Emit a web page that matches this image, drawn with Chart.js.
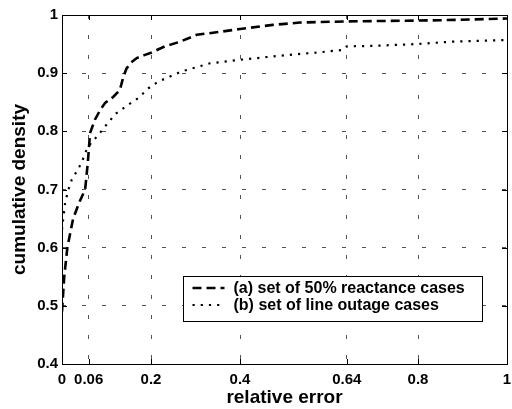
<!DOCTYPE html>
<html>
<head>
<meta charset="utf-8">
<script src="https://cdn.jsdelivr.net/npm/chart.js@4.4.1/dist/chart.umd.min.js"></script>
<style>
html, body { margin: 0; padding: 0; background: #fff; }
canvas { display: block; }
</style>
</head>
<body>
<canvas id="cdfChart" width="512" height="409"></canvas>
<script>
// 軸の目盛り
var xTicks = [0, 0.06, 0.2, 0.4, 0.64, 0.8, 1];
var yTicks = [0.4, 0.5, 0.6, 0.7, 0.8, 0.9, 1];

// (a) 50% reactance の累積分布
var reactX = [0, 0.005, 0.012, 0.025, 0.04, 0.052, 0.058, 0.063, 0.074, 0.086, 0.097, 0.115, 0.13, 0.138, 0.145, 0.155, 0.168, 0.185, 0.2, 0.231, 0.265, 0.303, 0.355, 0.4, 0.474, 0.535, 0.64, 0.76, 0.85, 0.95, 1];
var reactY = [0.49, 0.55, 0.6, 0.65, 0.68, 0.7, 0.746, 0.797, 0.82, 0.837, 0.849, 0.859, 0.871, 0.894, 0.908, 0.918, 0.926, 0.931, 0.935, 0.946, 0.954, 0.966, 0.971, 0.976, 0.983, 0.987, 0.989, 0.99, 0.991, 0.993, 0.994];

// (b) line outage の累積分布
var outageX = [0, 0.003, 0.007, 0.014, 0.022, 0.033, 0.044, 0.055, 0.067, 0.08, 0.093, 0.104, 0.12, 0.142, 0.171, 0.2, 0.224, 0.269, 0.333, 0.4, 0.49, 0.58, 0.632, 0.64, 0.7, 0.797, 0.872, 0.95, 1];
var outageY = [0.631, 0.651, 0.677, 0.699, 0.717, 0.731, 0.746, 0.768, 0.782, 0.792, 0.805, 0.815, 0.83, 0.842, 0.857, 0.878, 0.888, 0.903, 0.917, 0.923, 0.93, 0.936, 0.94, 0.946, 0.947, 0.95, 0.954, 0.956, 0.957];

var seriesLabels = ["(a) set of 50% reactance cases", "(b) set of line outage cases"];

var fontFamily = "'Liberation Sans', Arial, Helvetica, sans-serif";

function toPoints(xs, ys){
    var pts = [];
    for(var i=0;i<xs.length;++i){
        pts.push({x: xs[i], y: ys[i]});
    }
    return pts;
}

// 枠線と内向きの目盛り、凡例を描くプラグイン
var framePlugin = {
    id: 'frame',
    afterDraw: function(chart){
        var ctx = chart.ctx;
        var a = chart.chartArea;
        var xs = chart.scales.x;
        var ys = chart.scales.y;
        var tl = 5;
        ctx.save();
        ctx.strokeStyle = '#000';
        ctx.lineWidth = 1;
        ctx.setLineDash([]);
        ctx.beginPath();
        for(var i=0;i<xTicks.length;++i){
            var px = Math.round(xs.getPixelForValue(xTicks[i])) + 0.5;
            ctx.moveTo(px, a.bottom); ctx.lineTo(px, a.bottom - tl);
            ctx.moveTo(px, a.top); ctx.lineTo(px, a.top + tl);
        }
        for(var j=0;j<yTicks.length;++j){
            var py = Math.round(ys.getPixelForValue(yTicks[j])) + 0.5;
            ctx.moveTo(a.left, py); ctx.lineTo(a.left + tl, py);
            ctx.moveTo(a.right, py); ctx.lineTo(a.right - tl, py);
        }
        ctx.stroke();
        ctx.strokeRect(Math.round(a.left) + 0.5, Math.round(a.top) + 0.5, Math.round(a.right - a.left), Math.round(a.bottom - a.top));

        // 凡例
        var lx = Math.round(a.left) + 121.5;
        var ly = Math.round(a.top) + 261.5;
        var lw = 299, lh = 45;
        ctx.fillStyle = '#fff';
        ctx.fillRect(lx, ly, lw, lh);
        ctx.strokeRect(lx, ly, lw, lh);
        ctx.font = 'bold 16px ' + fontFamily;
        ctx.textBaseline = 'middle';
        ctx.textAlign = 'left';
        var rows = [11, 28];
        chart.data.datasets.forEach(function(ds, k){
            var ry = Math.round(ly + rows[k]);
            ctx.strokeStyle = ds.borderColor;
            ctx.lineWidth = ds.borderWidth;
            ctx.setLineDash(ds.borderDash);
            ctx.beginPath();
            ctx.moveTo(lx + 9, ry);
            ctx.lineTo(lx + 41, ry);
            ctx.stroke();
            ctx.setLineDash([]);
            ctx.fillStyle = '#000';
            ctx.fillText(ds.label, lx + 50, ry + 1);
        });
        ctx.restore();
    }
};

var ctx1 = document.getElementById("cdfChart");

var cdfChart = new Chart(ctx1, {
    type: 'line',
    data: {
        datasets: [{
            label: seriesLabels[0],
            data: toPoints(reactX, reactY),
            borderColor: '#000',
            borderWidth: 2.6,
            borderDash: [9, 5],
            pointRadius: 0,
            tension: 0,
            fill: false
        }, {
            label: seriesLabels[1],
            data: toPoints(outageX, outageY),
            borderColor: '#000',
            borderWidth: 2.2,
            borderDash: [2.2, 6],
            pointRadius: 0,
            tension: 0,
            fill: false
        }]
    },
    options: {
        responsive: false,
        animation: false,
        layout: {
            padding: {top: 15, right: 0, left: 0, bottom: 0}
        },
        plugins: {
            legend: { display: false },
            tooltip: { enabled: false }
        },
        scales: {
            x: {
                type: 'linear',
                min: 0,
                max: 1,
                afterBuildTicks: function(scale){
                    scale.ticks = xTicks.map(function(v){ return {value: v}; });
                },
                afterFit: function(scale){
                    scale.height = 45;
                    scale.paddingLeft = 0;
                    scale.paddingRight = 5;
                },
                ticks: {
                    autoSkip: false,
                    maxRotation: 0,
                    padding: 7,
                    color: '#000',
                    font: { family: fontFamily, size: 15, weight: 'bold' },
                    callback: function(v){ return String(v); }
                },
                grid: {
                    color: '#555',
                    lineWidth: 1,
                    drawTicks: false
                },
                border: { display: false, dash: [4, 16] },
                title: {
                    display: true,
                    text: 'relative error',
                    color: '#000',
                    padding: {top: 0, bottom: 0},
                    font: { family: fontFamily, size: 19, weight: 'bold' }
                }
            },
            y: {
                min: 0.4,
                max: 1,
                afterBuildTicks: function(scale){
                    scale.ticks = yTicks.map(function(v){ return {value: v}; });
                },
                afterFit: function(scale){
                    scale.width = 62;
                },
                ticks: {
                    padding: 4,
                    color: '#000',
                    font: { family: fontFamily, size: 15, weight: 'bold' },
                    callback: function(v){ return String(Math.round(v * 10) / 10); }
                },
                grid: {
                    color: '#555',
                    lineWidth: 1,
                    drawTicks: false
                },
                border: { display: false, dash: [4, 16] },
                title: {
                    display: true,
                    text: 'cumulative density',
                    color: '#000',
                    padding: {top: 8, bottom: 0},
                    font: { family: fontFamily, size: 19, weight: 'bold' }
                }
            }
        }
    },
    plugins: [framePlugin]
});
</script>
</body>
</html>
